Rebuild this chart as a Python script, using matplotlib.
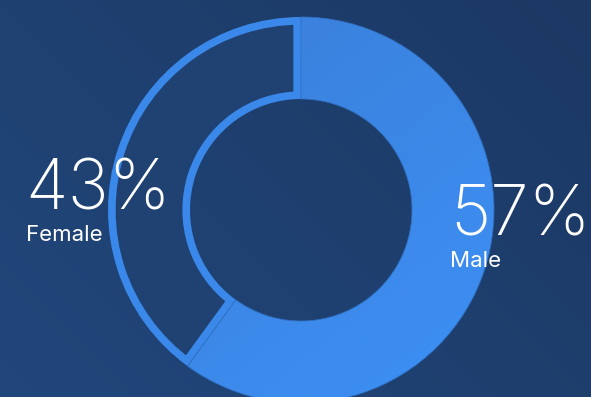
import numpy as np
import matplotlib
matplotlib.use("Agg")
import matplotlib.pyplot as plt
from matplotlib.patches import Wedge

labels = ['Male', 'Female']
pct_text = ['57%', '43%']
# share of the ring each slice covers, as drawn in the picture
arc_values = [60, 40]

W, H = 591, 397
cx, cy = 301, 397 - 210
r_out, r_in = 193, 111

fig = plt.figure(figsize=(W / 100, H / 100), dpi=100)
ax = fig.add_axes([0, 0, 1, 1])
ax.set_xlim(0, W)
ax.set_ylim(0, H)
ax.axis('off')

# background gradient (lighter bottom-left, darker top-right)
xx, yy = np.meshgrid(np.linspace(0, 1, 200), np.linspace(0, 1, 200))
t = (xx * 0.6 + yy * 0.4)
c0 = np.array([0x21, 0x47, 0x7b]) / 255
c1 = np.array([0x1c, 0x38, 0x63]) / 255
bg = c0 + (c1 - c0) * t[..., None]
ax.imshow(bg, extent=[0, W, 0, H], origin='lower', zorder=0, aspect='auto')

# angles: start at 12 o'clock, clockwise
male_deg = arc_values[0] / sum(arc_values) * 360
male_t1, male_t2 = 90 - male_deg, 90
fem_t1, fem_t2 = 90, 90 + (360 - male_deg)

# female: dark fill with inner stroke
fem = Wedge((cx, cy), r_out, fem_t1, fem_t2, width=r_out - r_in,
            facecolor='#1f4272', edgecolor='#3a88ea', linewidth=11, zorder=2)
ax.add_patch(fem)
fem.set_clip_path(fem)

# male: gradient fill clipped to wedge
male = Wedge((cx, cy), r_out, male_t1, male_t2, width=r_out - r_in,
             facecolor='none', edgecolor='none', zorder=3)
ax.add_patch(male)
g = (xx * -0.55 + yy * 0.7 + 0.55) / 1.25
m0 = np.array([0x3d, 0x90, 0xf6]) / 255
m1 = np.array([0x3a, 0x7e, 0xd6]) / 255
mg = m0 + (m1 - m0) * g[..., None]
im = ax.imshow(mg, extent=[cx - r_out, cx + r_out, cy - r_out, cy + r_out],
               origin='lower', zorder=3, aspect='auto')
im.set_clip_path(male)
seam = Wedge((cx, cy), r_out, male_t1, male_t2, width=r_out - r_in,
             facecolor='none', edgecolor='#2f6fc0', linewidth=0.6, zorder=4)
ax.add_patch(seam)
ax.set_xlim(0, W)
ax.set_ylim(0, H)

fam = ['Inter', 'DejaVu Sans']
big, small = 50, 16
ax.text(450, H - 236, pct_text[0], color='white', fontsize=big, fontweight='light',
        family=fam, ha='left', va='baseline', zorder=5)
ax.text(450, H - 267, labels[0], color='white', fontsize=small, fontweight='normal',
        family=fam, ha='left', va='baseline', zorder=5)
ax.text(25, H - 210, pct_text[1], color='white', fontsize=big, fontweight='light',
        family=fam, ha='left', va='baseline', zorder=5)
ax.text(26, H - 241, labels[1], color='white', fontsize=small, fontweight='normal',
        family=fam, ha='left', va='baseline', zorder=5)

fig.savefig('out.png', dpi=100)
